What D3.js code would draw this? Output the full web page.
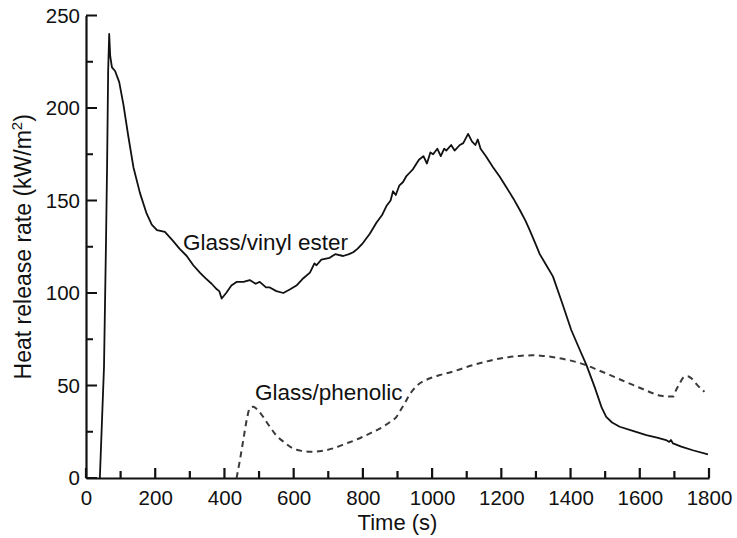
<!DOCTYPE html>
<html>
<head>
<meta charset="utf-8">
<script src="https://cdn.jsdelivr.net/npm/d3@7"></script>
<style>
  body { margin: 0; background: #fff; }
  text { font-family: "Liberation Sans", Arial, sans-serif; fill: #111; }
</style>
</head>
<body>
<svg id="chart"></svg>
<script>
// Glass/vinyl ester curve (time s, HRR kW/m2)
var vinylTime = [40, 52, 58, 61, 64, 67, 70, 75, 84, 96, 108, 122, 137, 156, 175, 190, 205, 228, 252, 270,
  291, 310, 329, 345, 363, 378, 385, 392, 405, 420, 435, 455, 473, 490, 502, 520, 531, 550, 570, 590,
  608, 628, 647, 660, 666, 680, 704, 720, 743, 760, 772, 785, 800, 820, 839, 855, 868, 880, 887, 895,
  905, 916, 925, 935, 945, 955, 962, 975, 985, 995, 1003, 1015, 1025, 1035, 1041, 1055, 1065, 1080, 1090, 1104,
  1115, 1125, 1132, 1140, 1155, 1176, 1195, 1215, 1235, 1253, 1270, 1282, 1300, 1311, 1330, 1349, 1375, 1402, 1425, 1446,
  1470, 1490, 1503, 1520, 1542, 1580, 1619, 1650, 1676, 1685, 1690, 1696, 1720, 1753, 1797];
var vinylHrr = [0, 60, 130, 170, 220, 240, 228, 222, 220, 214, 202, 185, 168, 154, 143, 137, 134, 133, 128, 124,
  120, 115, 111, 108, 105, 102, 101, 97, 100, 104, 106, 106, 107, 105, 106, 103, 103, 101, 100, 102,
  104, 108, 111, 116, 115, 118, 119, 121, 120, 121, 122, 124, 127, 132, 138, 142, 147, 150, 155, 153,
  158, 160, 163, 165, 167, 170, 172, 174, 170, 176, 175, 178, 174, 178, 177, 180, 177, 180, 181, 186,
  182, 180, 183, 178, 174, 168, 163, 157, 151, 145, 139, 134, 126, 121, 115, 109, 95, 80, 70, 61,
  49, 38, 33, 30, 27.7, 25.5, 23.2, 21.8, 20.5, 19.5, 20.5, 18.7, 17, 15, 12.8];

// Glass/phenolic curve
var phenTime = [435, 445, 454, 465, 473, 483, 495, 512, 530, 550, 575, 598, 620, 647, 680, 714, 750, 791, 825, 858,
  880, 897, 910, 921, 933, 945, 960, 983, 1020, 1060, 1100, 1137, 1180, 1215, 1253, 1290, 1320, 1360, 1388, 1420,
  1445, 1480, 1513, 1550, 1580, 1610, 1638, 1660, 1676, 1696, 1706, 1715, 1729, 1738, 1749, 1765, 1787];
var phenHrr = [0, 10, 20, 32, 37.7, 38.5, 37, 33, 28, 23, 19, 16, 14.8, 14.2, 14.6, 16, 18.5, 21.5, 24.5, 27.7,
  30.5, 33, 37, 40.4, 44.5, 47.6, 50.5, 53, 55.5, 57.5, 60, 62, 64, 65.2, 66, 66.3, 66, 65, 64, 62.5,
  61, 58.3, 55.7, 52.7, 50.3, 48, 45.8, 44.5, 44, 44, 48, 51, 54.8, 55, 53.9, 50.5, 46.6];

var xTicks = [0, 200, 400, 600, 800, 1000, 1200, 1400, 1600, 1800];
var yTicks = [0, 50, 100, 150, 200, 250];

var margin = { top: 15.5, right: 28, bottom: 60, left: 86 },
  width = 737 - margin.left - margin.right,
  height = 538 - margin.top - margin.bottom;

var svg = d3.select("#chart")
  .attr("width", 737)
  .attr("height", 538);
var g = svg.append("g")
  .attr("transform", "translate(" + margin.left + "," + margin.top + ")");

var x = d3.scaleLinear().domain([0, 1800]).range([0, width]);
var y = d3.scaleLinear().domain([0, 250]).range([height, 0]);

// axes: labels + domain line from d3
g.append("g")
  .attr("transform", "translate(0," + height + ")")
  .call(d3.axisBottom(x).tickValues(xTicks).tickSize(0).tickPadding(12).tickFormat(d3.format("d")));
g.append("g")
  .call(d3.axisLeft(y).tickValues(yTicks).tickSize(0).tickPadding(6).tickFormat(d3.format("d")));

g.selectAll(".domain").attr("stroke", "#111").attr("stroke-width", 2.2);
g.selectAll(".tick text").attr("font-size", 20.5).attr("fill", "#111")
  .attr("font-family", "Liberation Sans, Arial, sans-serif");

// curves
var vinyl = vinylTime.map(function (t, i) { return [t, vinylHrr[i]]; });
var phen = phenTime.map(function (t, i) { return [t, phenHrr[i]]; });

var line = d3.line()
  .x(function (d) { return x(d[0]); })
  .y(function (d) { return y(d[1]); });

g.append("path")
  .datum(phen)
  .attr("fill", "none")
  .attr("stroke", "#3a3a3a")
  .attr("stroke-width", 2)
  .attr("stroke-dasharray", "6,4.5")
  .attr("d", line.curve(d3.curveMonotoneX));

g.append("path")
  .datum(vinyl)
  .attr("fill", "none")
  .attr("stroke", "#111")
  .attr("stroke-width", 1.8)
  .attr("stroke-linejoin", "round")
  .attr("d", line.curve(d3.curveLinear));

// inward ticks as one path: major every 200 s / 50 units, minor in between
var tickPath = d3.path();
d3.range(0, 1801, 100).forEach(function (d) {
  tickPath.moveTo(x(d), height);
  tickPath.lineTo(x(d), height - (d % 200 === 0 ? 10 : 7));
});
d3.range(0, 251, 25).forEach(function (d) {
  tickPath.moveTo(0, y(d));
  tickPath.lineTo(d % 50 === 0 ? 11 : 7, y(d));
});
g.append("path")
  .attr("d", tickPath.toString())
  .attr("fill", "none")
  .attr("stroke", "#111")
  .attr("stroke-width", 2.2);

// labels
svg.append("text")
  .attr("x", 183).attr("y", 250)
  .attr("font-size", 22.5)
  .text("Glass/vinyl ester");
svg.append("text")
  .attr("x", 255).attr("y", 400)
  .attr("font-size", 22.5)
  .text("Glass/phenolic");

svg.append("text")
  .attr("x", margin.left + width / 2).attr("y", 530)
  .attr("text-anchor", "middle")
  .attr("font-size", 22)
  .text("Time (s)");

var yt = svg.append("text")
  .attr("transform", "translate(31," + (margin.top + height / 2) + ") rotate(-90)")
  .attr("text-anchor", "middle")
  .attr("font-size", 23);
yt.append("tspan").text("Heat release rate (kW/m");
yt.append("tspan").attr("font-size", 15).attr("dy", -9).text("2");
yt.append("tspan").attr("dy", 9).text(")");
</script>
</body>
</html>
